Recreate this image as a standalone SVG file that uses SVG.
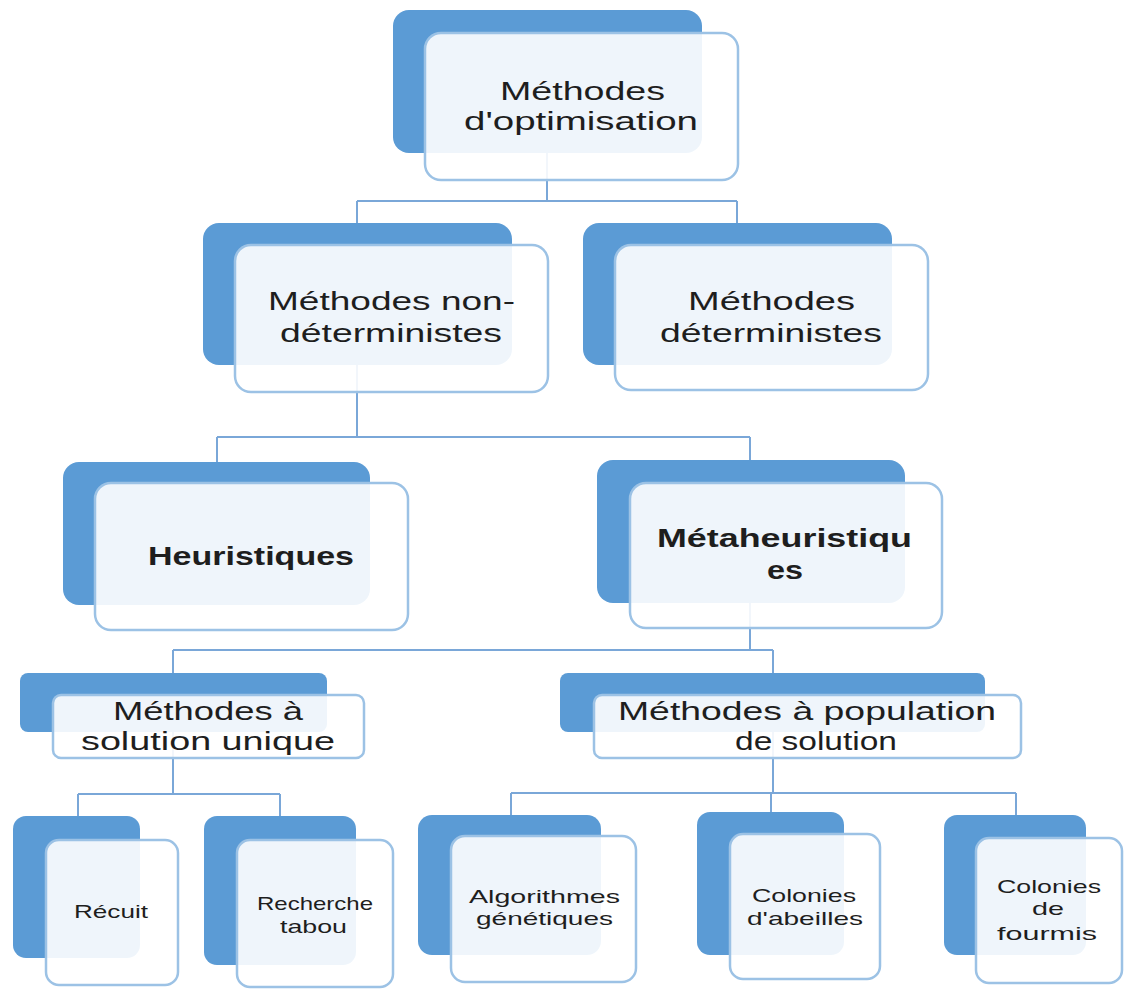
<svg xmlns="http://www.w3.org/2000/svg" width="1126" height="989" viewBox="0 0 1126 989">
  <style>
    .back { fill: #5b9bd5; }
    .front { fill: #ffffff; fill-opacity: 0.9; stroke: #9cc2e5; stroke-width: 2.5; }
    .link { fill: none; stroke: #7aa7d8; stroke-width: 2; }
    text { font-family: "Liberation Sans", Arial, sans-serif; fill: #1e1e1e; }
    .l1 { font-size: 26px; }
    .b1 { font-size: 26px; font-weight: 700; }
    .s1 { font-size: 19px; }
  </style>
  <rect width="1126" height="989" fill="#ffffff"/>

  <g id="connectors">
    <path class="link" d="M547 153 V201 M357 201 H737 M357 201 V223 M737 201 V223"/>
    <path class="link" d="M357 365 V437 M217 437 H750 M217 437 V462 M750 437 V460"/>
    <path class="link" d="M750 603 V650 M173 650 H773 M173 650 V673 M773 650 V673"/>
    <path class="link" d="M173 732 V794 M78 794 H280 M78 794 V816 M280 794 V816"/>
    <path class="link" d="M773 732 V793 M511 793 H1016 M511 793 V815 M771 793 V812 M1016 793 V815"/>
  </g>

  <g id="n-optimisation">
    <rect class="back" x="393" y="10" width="309" height="143" rx="16"/>
    <rect class="front" x="425" y="33" width="313" height="147" rx="16"/>
    <text class="l1" x="500" y="100" textLength="165" lengthAdjust="spacingAndGlyphs">Méthodes</text>
    <text class="l1" x="464" y="130" textLength="234" lengthAdjust="spacingAndGlyphs">d'optimisation</text>
  </g>

  <g id="n-non-deterministes">
    <rect class="back" x="203" y="223" width="309" height="142" rx="16"/>
    <rect class="front" x="235" y="245" width="313" height="147" rx="16"/>
    <text class="l1" x="268" y="310" textLength="247" lengthAdjust="spacingAndGlyphs">Méthodes non-</text>
    <text class="l1" x="280" y="342" textLength="222" lengthAdjust="spacingAndGlyphs">déterministes</text>
  </g>

  <g id="n-deterministes">
    <rect class="back" x="583" y="223" width="309" height="142" rx="16"/>
    <rect class="front" x="615" y="245" width="313" height="145" rx="16"/>
    <text class="l1" x="688" y="310" textLength="167" lengthAdjust="spacingAndGlyphs">Méthodes</text>
    <text class="l1" x="660" y="342" textLength="222" lengthAdjust="spacingAndGlyphs">déterministes</text>
  </g>

  <g id="n-heuristiques">
    <rect class="back" x="63" y="462" width="307" height="143" rx="16"/>
    <rect class="front" x="95" y="483" width="313" height="147" rx="16"/>
    <text class="b1" x="148" y="565" textLength="206" lengthAdjust="spacingAndGlyphs">Heuristiques</text>
  </g>

  <g id="n-metaheuristiques">
    <rect class="back" x="597" y="460" width="308" height="143" rx="16"/>
    <rect class="front" x="630" y="483" width="312" height="145" rx="16"/>
    <text class="b1" x="657" y="547" textLength="255" lengthAdjust="spacingAndGlyphs">Métaheuristiqu</text>
    <text class="b1" x="767" y="579" textLength="36" lengthAdjust="spacingAndGlyphs">es</text>
  </g>

  <g id="n-solution-unique">
    <rect class="back" x="20" y="673" width="307" height="59" rx="8"/>
    <rect class="front" x="53" y="695" width="311" height="63" rx="8"/>
    <text class="l1" x="113" y="720" textLength="190" lengthAdjust="spacingAndGlyphs">Méthodes à</text>
    <text class="l1" x="81" y="750" textLength="254" lengthAdjust="spacingAndGlyphs">solution unique</text>
  </g>

  <g id="n-population">
    <rect class="back" x="560" y="673" width="425" height="59" rx="8"/>
    <rect class="front" x="594" y="695" width="427" height="63" rx="8"/>
    <text class="l1" x="618" y="720" textLength="378" lengthAdjust="spacingAndGlyphs">Méthodes à population</text>
    <text class="l1" x="735" y="750" textLength="162" lengthAdjust="spacingAndGlyphs">de solution</text>
  </g>

  <g id="n-recuit">
    <rect class="back" x="13" y="816" width="127" height="142" rx="13"/>
    <rect class="front" x="46" y="840" width="132" height="145" rx="13"/>
    <text class="s1" x="74" y="918" textLength="74" lengthAdjust="spacingAndGlyphs">Récuit</text>
  </g>

  <g id="n-tabou">
    <rect class="back" x="204" y="816" width="152" height="149" rx="13"/>
    <rect class="front" x="237" y="840" width="156" height="147" rx="13"/>
    <text class="s1" x="257" y="910" textLength="116" lengthAdjust="spacingAndGlyphs">Recherche</text>
    <text class="s1" x="280" y="933" textLength="67" lengthAdjust="spacingAndGlyphs">tabou</text>
  </g>

  <g id="n-genetiques">
    <rect class="back" x="418" y="815" width="183" height="140" rx="14"/>
    <rect class="front" x="451" y="836" width="185" height="146" rx="14"/>
    <text class="s1" x="469" y="903" textLength="151" lengthAdjust="spacingAndGlyphs">Algorithmes</text>
    <text class="s1" x="476" y="925" textLength="137" lengthAdjust="spacingAndGlyphs">génétiques</text>
  </g>

  <g id="n-abeilles">
    <rect class="back" x="697" y="812" width="147" height="143" rx="13"/>
    <rect class="front" x="730" y="834" width="150" height="145" rx="13"/>
    <text class="s1" x="752" y="902" textLength="104" lengthAdjust="spacingAndGlyphs">Colonies</text>
    <text class="s1" x="747" y="925" textLength="116" lengthAdjust="spacingAndGlyphs">d'abeilles</text>
  </g>

  <g id="n-fourmis">
    <rect class="back" x="944" y="815" width="142" height="140" rx="13"/>
    <rect class="front" x="976" y="838" width="146" height="145" rx="13"/>
    <text class="s1" x="997" y="893" textLength="104" lengthAdjust="spacingAndGlyphs">Colonies</text>
    <text class="s1" x="1032" y="915" textLength="32" lengthAdjust="spacingAndGlyphs">de</text>
    <text class="s1" x="997" y="940" textLength="100" lengthAdjust="spacingAndGlyphs">fourmis</text>
  </g>
</svg>
